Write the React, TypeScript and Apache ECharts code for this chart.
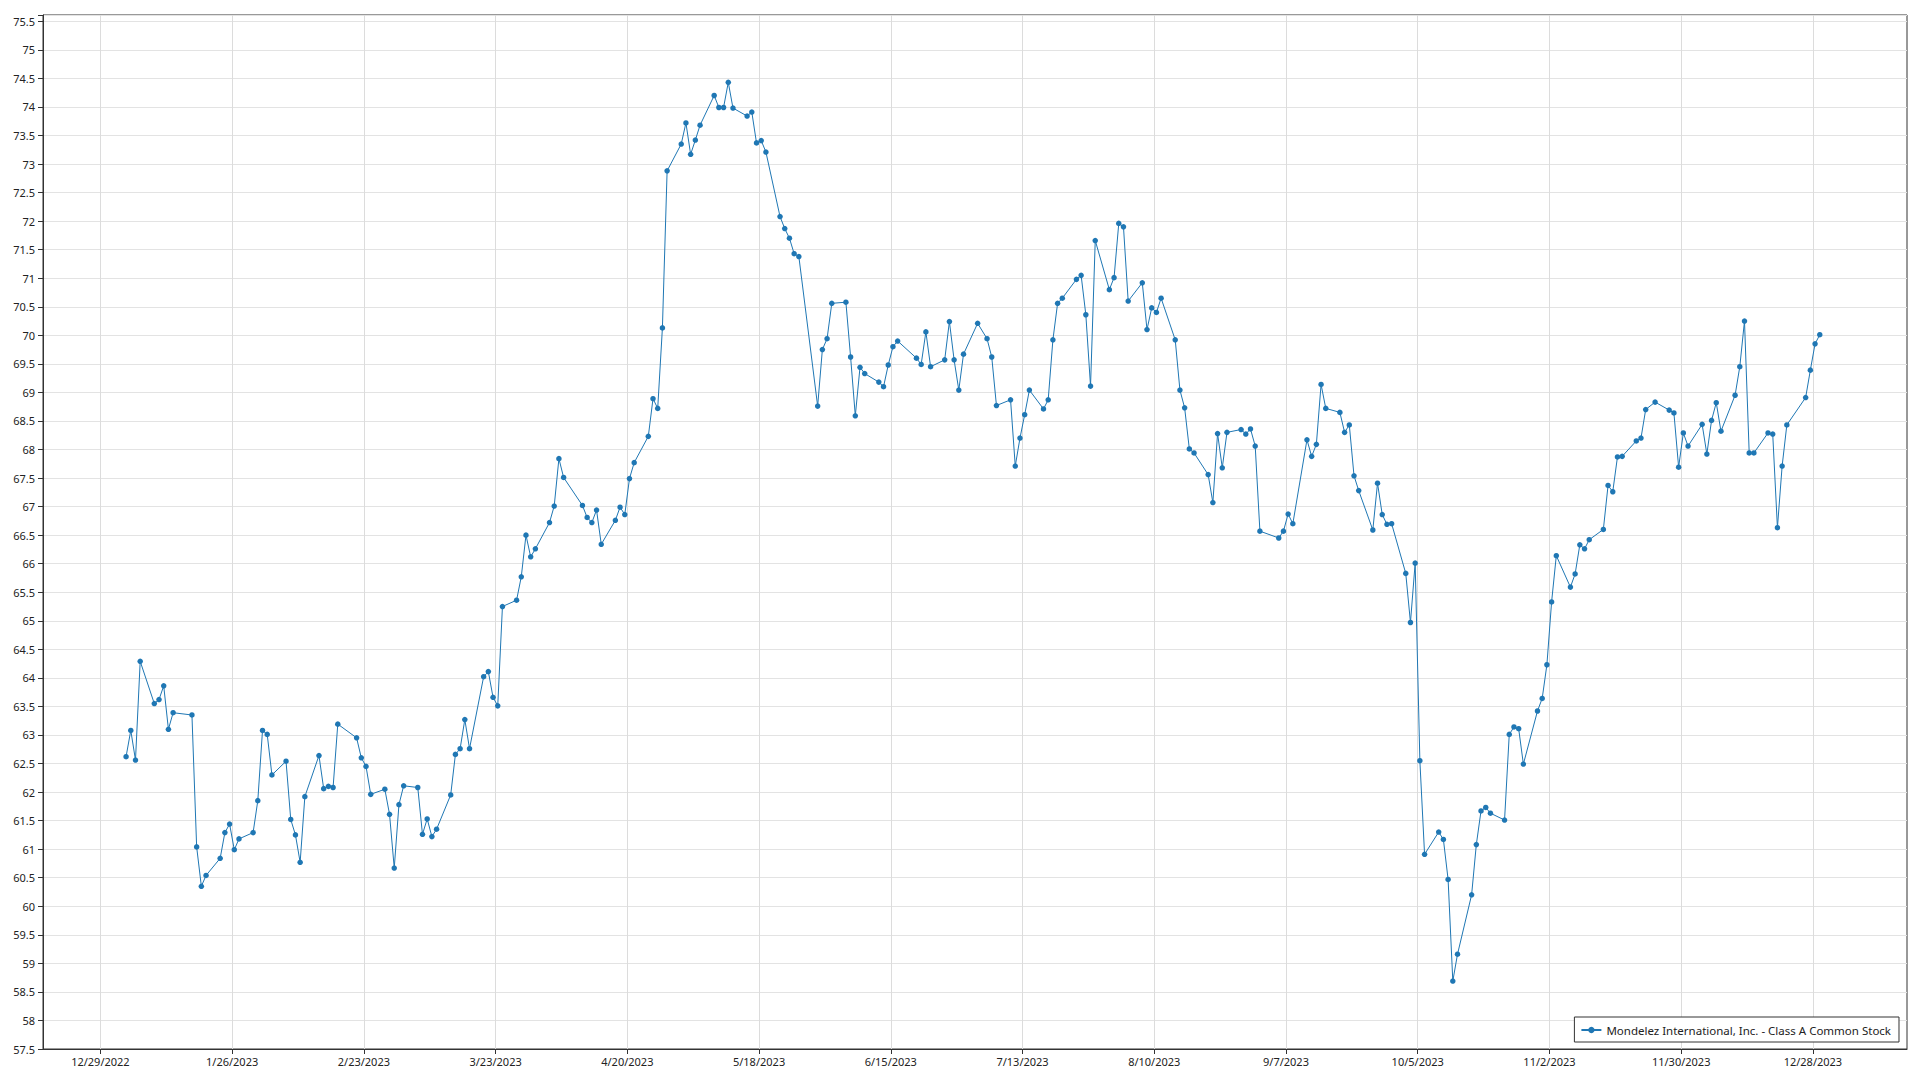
import React, { useEffect, useRef } from "react";
import * as echarts from "echarts";

// Trading days (day of month) and closing prices, per month of 2023
const janDays = [3, 4, 5, 6, 9, 10, 11, 12, 13, 17, 18, 19, 20, 23, 24, 25, 26, 27, 30, 31];
const janPrices = [62.62, 63.08, 62.56, 64.29, 63.55, 63.62, 63.86, 63.1, 63.39, 63.35, 61.04, 60.35, 60.54, 60.84, 61.29, 61.44, 60.99, 61.18, 61.29, 61.85];

const febDays = [1, 2, 3, 6, 7, 8, 9, 10, 13, 14, 15, 16, 17, 21, 22, 23, 24, 27, 28];
const febPrices = [63.08, 63.01, 62.3, 62.54, 61.52, 61.25, 60.77, 61.92, 62.64, 62.06, 62.1, 62.08, 63.19, 62.95, 62.6, 62.45, 61.96, 62.05, 61.61];

const marDays = [1, 2, 3, 6, 7, 8, 9, 10, 13, 14, 15, 16, 17, 20, 21, 22, 23, 24, 27, 28, 29, 30, 31];
const marPrices = [60.67, 61.78, 62.11, 62.08, 61.26, 61.53, 61.22, 61.35, 61.95, 62.66, 62.76, 63.27, 62.76, 64.02, 64.11, 63.66, 63.51, 65.25, 65.36, 65.77, 66.5, 66.12, 66.26];

const aprDays = [3, 4, 5, 6, 10, 11, 12, 13, 14, 17, 18, 19, 20, 21, 24, 25, 26, 27, 28];
const aprPrices = [66.72, 67.01, 67.84, 67.51, 67.02, 66.81, 66.72, 66.94, 66.34, 66.76, 66.99, 66.86, 67.49, 67.77, 68.23, 68.89, 68.72, 70.13, 72.88];

const mayDays = [1, 2, 3, 4, 5, 8, 9, 10, 11, 12, 15, 16, 17, 18, 19, 22, 23, 24, 25, 26, 30, 31];
const mayPrices = [73.35, 73.72, 73.17, 73.42, 73.68, 74.2, 73.99, 73.99, 74.43, 73.98, 73.84, 73.91, 73.37, 73.41, 73.21, 72.08, 71.87, 71.7, 71.43, 71.38, 68.76, 69.75];

const junDays = [1, 2, 5, 6, 7, 8, 9, 12, 13, 14, 15, 16, 20, 21, 22, 23, 26, 27, 28, 29, 30];
const junPrices = [69.94, 70.56, 70.58, 69.62, 68.59, 69.44, 69.33, 69.18, 69.1, 69.48, 69.8, 69.9, 69.6, 69.49, 70.06, 69.45, 69.57, 70.24, 69.57, 69.04, 69.67];

const julDays = [3, 5, 6, 7, 10, 11, 12, 13, 14, 17, 18, 19, 20, 21, 24, 25, 26, 27, 28, 31];
const julPrices = [70.21, 69.94, 69.62, 68.77, 68.87, 67.71, 68.2, 68.61, 69.04, 68.71, 68.87, 69.92, 70.56, 70.65, 70.98, 71.05, 70.36, 69.11, 71.66, 70.8];

const augDays = [1, 2, 3, 4, 7, 8, 9, 10, 11, 14, 15, 16, 17, 18, 21, 22, 23, 24, 25, 28, 29, 30, 31];
const augPrices = [71.01, 71.96, 71.9, 70.6, 70.92, 70.1, 70.48, 70.4, 70.65, 69.92, 69.04, 68.73, 68.01, 67.94, 67.56, 67.07, 68.28, 67.68, 68.3, 68.35, 68.27, 68.36, 68.06];

const sepDays = [1, 5, 6, 7, 8, 11, 12, 13, 14, 15, 18, 19, 20, 21, 22, 25, 26, 27, 28, 29];
const sepPrices = [66.57, 66.45, 66.57, 66.87, 66.7, 68.17, 67.88, 68.09, 69.14, 68.72, 68.65, 68.3, 68.43, 67.54, 67.28, 66.59, 67.41, 66.86, 66.69, 66.7];

const octDays = [2, 3, 4, 5, 6, 9, 10, 11, 12, 13, 16, 17, 18, 19, 20, 23, 24, 25, 26, 27, 30, 31];
const octPrices = [65.83, 64.97, 66.01, 62.55, 60.91, 61.3, 61.17, 60.47, 58.69, 59.16, 60.2, 61.08, 61.67, 61.73, 61.63, 61.51, 63.01, 63.14, 63.11, 62.49, 63.42, 63.64];

const novDays = [1, 2, 3, 6, 7, 8, 9, 10, 13, 14, 15, 16, 17, 20, 21, 22, 24, 27, 28, 29, 30];
const novPrices = [64.23, 65.33, 66.14, 65.59, 65.82, 66.33, 66.26, 66.42, 66.6, 67.37, 67.26, 67.87, 67.88, 68.15, 68.2, 68.7, 68.83, 68.69, 68.64, 67.69, 68.29];

const decDays = [1, 4, 5, 6, 7, 8, 11, 12, 13, 14, 15, 18, 19, 20, 21, 22, 26, 27, 28, 29];
const decPrices = [68.06, 68.44, 67.92, 68.51, 68.82, 68.32, 68.95, 69.45, 70.25, 67.94, 67.94, 68.29, 68.27, 66.63, 67.71, 68.43, 68.91, 69.39, 69.85, 70.01];

const seriesName = "Mondelez International, Inc. - Class A Common Stock";

// x-axis tick dates: every 28 days starting 12/29/2022
const tickStart = [2022, 12, 29];
const tickStepDays = 28;
const tickCount = 14;

const DAY = 86400000;

const monthDays = [janDays, febDays, marDays, aprDays, mayDays, junDays, julDays, augDays, sepDays, octDays, novDays, decDays];
const monthPrices = [janPrices, febPrices, marPrices, aprPrices, mayPrices, junPrices, julPrices, augPrices, sepPrices, octPrices, novPrices, decPrices];

function buildData(): [number, number][] {
  const out: [number, number][] = [];
  monthDays.forEach((days, mi) => {
    days.forEach((d, i) => {
      out.push([Date.UTC(2023, mi, d, 11), monthPrices[mi][i]]);
    });
  });
  return out;
}

function fmtDate(t: number): string {
  const dt = new Date(t);
  return `${dt.getUTCMonth() + 1}/${dt.getUTCDate()}/${dt.getUTCFullYear()}`;
}

export default function App() {
  const ref = useRef<HTMLDivElement>(null);

  useEffect(() => {
    document.body.style.margin = "0";
    if (!ref.current) return;
    const chart = echarts.init(ref.current, undefined, { renderer: "svg" });
    const base = Date.UTC(tickStart[0], tickStart[1] - 1, tickStart[2]);
    const ticks: number[] = [];
    for (let k = 0; k < tickCount; k++) ticks.push(base + k * tickStepDays * DAY);
    const font = "'Noto Sans', 'Open Sans', sans-serif";

    chart.setOption({
      animation: false,
      backgroundColor: "#ffffff",
      grid: {
        left: 43,
        right: 13,
        top: 15,
        bottom: 31,
        show: true,
        borderColor: "#333333",
        borderWidth: 1,
        containLabel: false,
      },
      legend: {
        right: 21,
        bottom: 38,
        orient: "horizontal",
        backgroundColor: "#ffffff",
        borderColor: "#333333",
        borderWidth: 1,
        borderRadius: 0,
        padding: [7, 8, 6, 6],
        itemWidth: 20,
        itemHeight: 8,
        itemGap: 6,
        textStyle: { fontFamily: font, fontSize: 11.5, color: "#222" },
        data: [seriesName],
      },
      xAxis: {
        type: "value",
        min: base - 12.2 * DAY,
        max: base + 384 * DAY,
        axisLine: { show: true, lineStyle: { color: "#333333" } },
        axisTick: { show: true, length: 5, customValues: ticks, lineStyle: { color: "#333333" } },
        axisLabel: {
          customValues: ticks,
          formatter: (v: number) => fmtDate(v),
          fontFamily: font,
          fontSize: 11,
          color: "#222",
          margin: 7,
        },
        splitLine: { show: true, lineStyle: { color: "#dcdcdc", width: 1 } },
      },
      yAxis: {
        type: "value",
        min: 57.5,
        max: 75.61,
        interval: 0.5,
        axisLine: { show: true, lineStyle: { color: "#333333" } },
        axisTick: { show: true, length: 5, lineStyle: { color: "#333333" } },
        axisLabel: {
          formatter: (v: number) => (Math.abs(v * 2 - Math.round(v * 2)) < 1e-6 ? String(v) : ""),
          fontFamily: font,
          fontSize: 11,
          color: "#222",
          margin: 8,
        },
        splitLine: { show: true, lineStyle: { color: "#e3e3e3", width: 1 } },
      },
      series: [
        {
          name: seriesName,
          type: "line",
          data: buildData(),
          showSymbol: true,
          symbol: "circle",
          symbolSize: 5.5,
          lineStyle: { color: "#1f77b4", width: 1 },
          itemStyle: { color: "#1f77b4" },
        },
      ],
    });
    return () => chart.dispose();
  }, []);

  return <div ref={ref} style={{ position: "fixed", left: 0, top: 0, width: 1920, height: 1080 }} />;
}
